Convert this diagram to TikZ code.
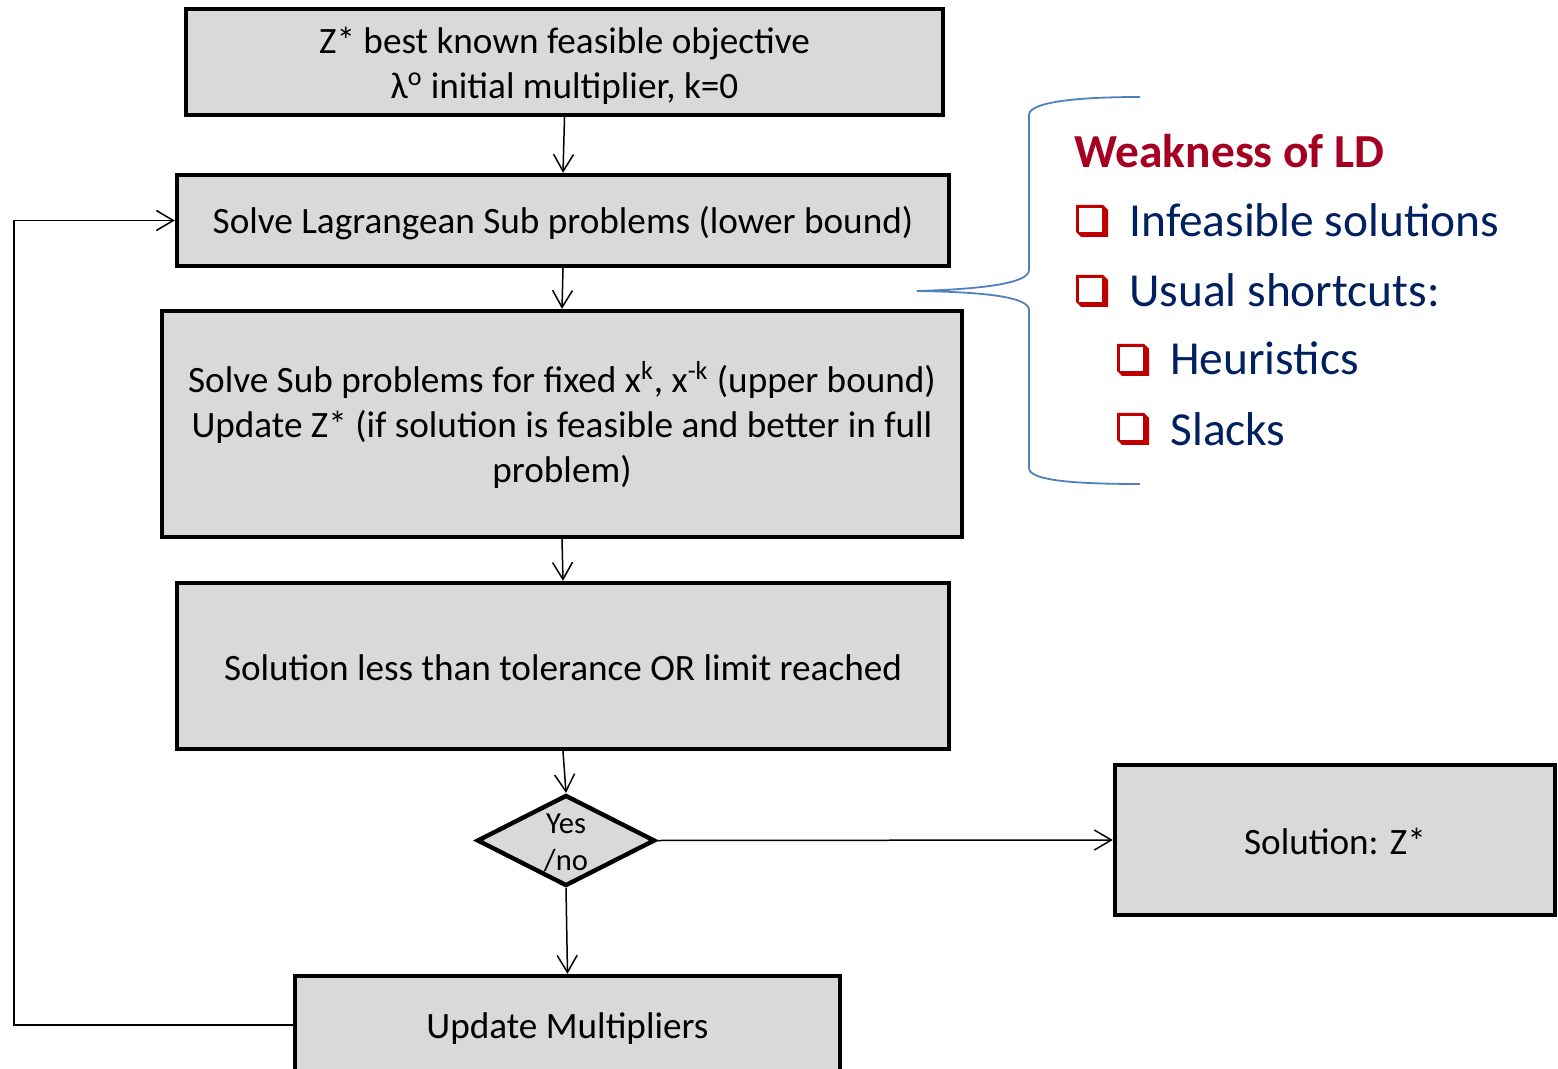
\documentclass[tikz,border=0pt]{standalone}
\usepackage{fontspec}
\setmainfont{Carlito}
\usetikzlibrary{arrows.meta,shapes.geometric}

\definecolor{boxgray}{HTML}{D9D9D9}
\definecolor{titlered}{HTML}{A50021}
\definecolor{listblue}{HTML}{002060}
\definecolor{bulletred}{HTML}{C00000}
\definecolor{bracebl}{HTML}{4F81BD}

\tikzset{
  stepbox/.style={draw=black, line width=2.2pt, fill=boxgray, rectangle,
    inner sep=0pt},
  boxtext/.style={inner sep=0pt, align=center,
    font=\fontsize{18.6pt}{22.5pt}\selectfont},
  decbox/.style={draw=black, line width=2.2pt, fill=boxgray, diamond,
    inner sep=0pt},
  flow/.style={line width=0.75pt, -{Straight Barb[length=8.5pt,width=10pt]}},
  listtxt/.style={anchor=base west, inner sep=0pt, text=listblue,
    font=\fontsize{23.7pt}{28pt}\selectfont},
  % hollow square bullet with a bevelled drop shadow
  sqbullet/.pic={
    \fill[bulletred] (0,0) -- (27,0) -- (32,5) -- (32,32) -- (5,32) -- (0,27) -- cycle;
    \fill[white] (3,3) rectangle (26,27);
  }
}

\begin{document}
\begin{tikzpicture}[x=0.5pt,y=-0.5pt]
\useasboundingbox (0,0) rectangle (1558,1069);

% flow chart boxes
\node[stepbox, minimum width=378.5pt, minimum height=53pt] (init) at (564.5,62) {};
\node[boxtext] (init-t) at (564.5,65.5)
  {Z* best known feasible objective\\ λ\textsuperscript{o} initial multiplier, k=0};
\node[stepbox, minimum width=386pt, minimum height=45.5pt] (lower) at (563,220.5) {};
\node[boxtext] (lower-t) at (563,223.5) {Solve Lagrangean Sub problems (lower bound)};
\node[stepbox, minimum width=400pt, minimum height=113pt] (upper) at (562,424) {};
\node[boxtext] (upper-t) at (562,425)
  {Solve Sub problems for fixed x\textsuperscript{k}, x\textsuperscript{-k} (upper bound)\\
   Update Z* (if solution is feasible and better in full\\ problem)};
\node[stepbox, minimum width=386pt, minimum height=83pt] (check) at (563,666) {};
\node[boxtext] (check-t) at (563,667.5) {Solution less than tolerance OR limit reached};
\node[decbox, minimum width=89pt, minimum height=45.5pt] (dec) at (566,840.5) {};
\node[align=center, inner sep=0pt, font=\fontsize{15.3pt}{18.5pt}\selectfont]
  (dec-t) at (566,842.5) {Yes\\/no};
\node[stepbox, minimum width=220pt, minimum height=75pt] (sol) at (1335,840) {};
\node[boxtext] (sol-t) at (1335,841.5) {Solution: Z*};
\node[stepbox, minimum width=272.5pt, minimum height=52pt] (upd) at (567.5,1028) {};
\node[boxtext] (upd-t) at (567.5,1029) {Update Multipliers};

% connectors
\draw[flow] (init.south) -- (lower.north);
\draw[flow] (lower.south) -- (upper.north);
\draw[flow] (upper.south) -- (check.north);
\draw[flow] (check.south) -- (dec.north);
\draw[flow] (dec.south) -- (upd.north);
\draw[flow] (dec.east) -- (sol.west);
\coordinate (loop) at (14,1025);
\draw[flow] (upd.west |- loop) -- (loop) |- (lower.west);

% brace
\coordinate (tip) at (917,291);
\draw[bracebl, line width=0.9pt]
  (1140,97) .. controls (1070,97) and (1029,103) .. (1029,115)
  -- (1029,270) .. controls (1029,283) and (985,289) .. (tip)
  .. controls (985,292) and (1029,297) .. (1029,310)
  -- (1029,468) .. controls (1029,480) and (1070,484) .. (1140,484);

% weaknesses list
\node[anchor=base west, inner sep=0pt, text=titlered,
  font=\fontsize{23.7pt}{28pt}\selectfont\bfseries] (title) at (1074,168) {Weakness of LD};
\pic at (1076,205) {sqbullet};
\node[listtxt] (item1) at (1129,237) {Infeasible solutions};
\pic at (1076,275) {sqbullet};
\node[listtxt] (item2) at (1129,307) {Usual shortcuts:};
\pic at (1117,344) {sqbullet};
\node[listtxt] (item3) at (1170,375) {Heuristics};
\pic at (1117,413) {sqbullet};
\node[listtxt] (item4) at (1170,445) {Slacks};
\end{tikzpicture}
\end{document}
